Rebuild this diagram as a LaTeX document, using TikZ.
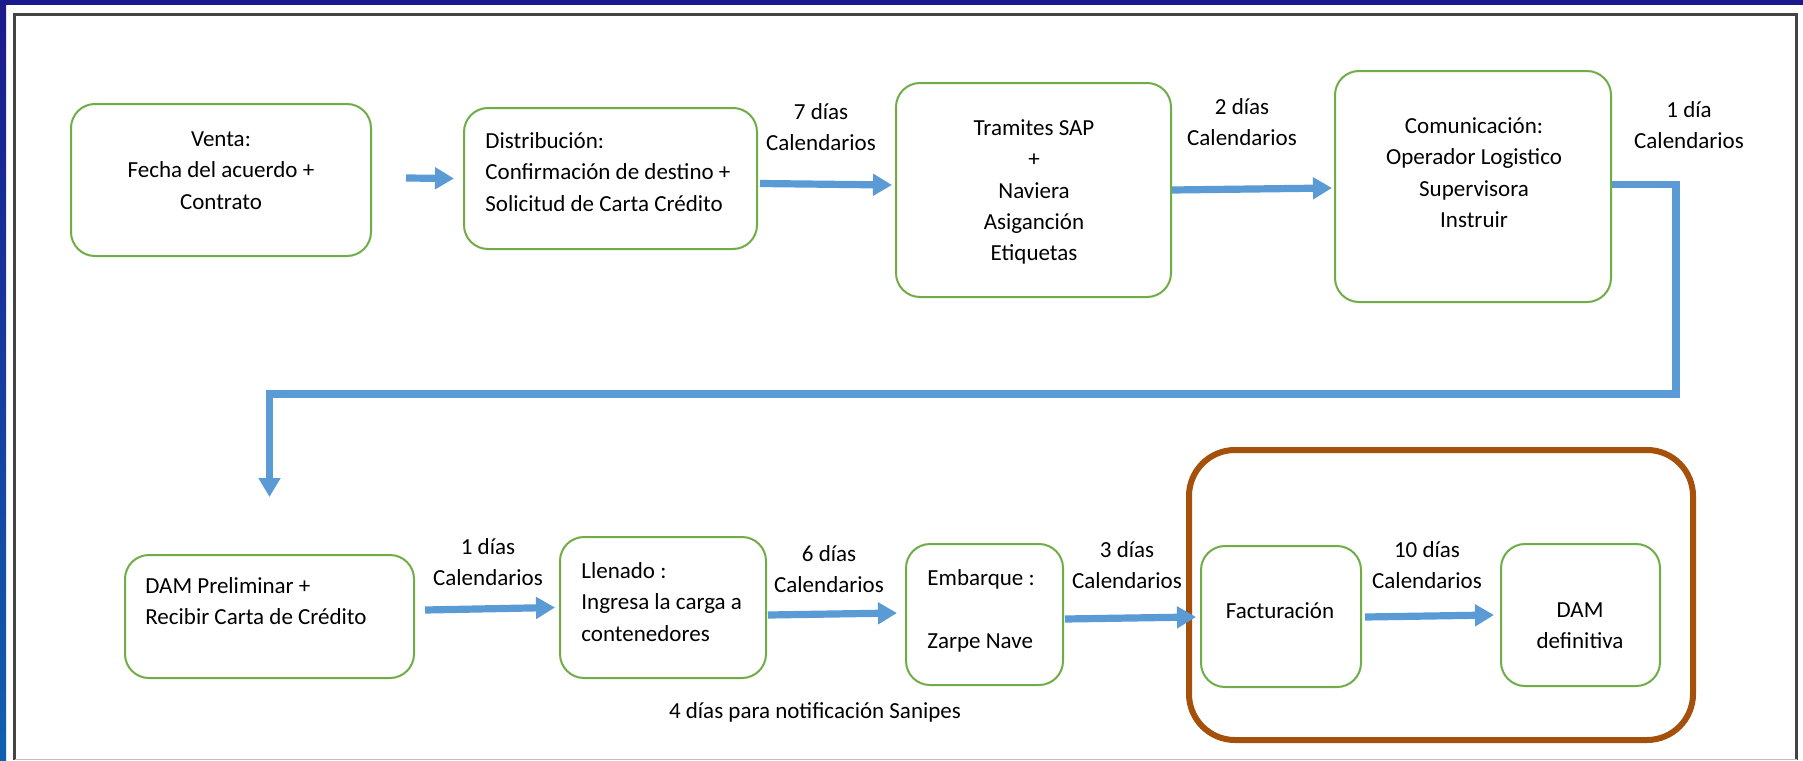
\documentclass[tikz,border=0pt]{standalone}
\usepackage{fontspec}
\setmainfont{Carlito}
\usetikzlibrary{arrows.meta}
\definecolor{verde}{RGB}{112,173,71}
\definecolor{azul}{RGB}{91,155,213}
\definecolor{cafe}{RGB}{165,80,11}
\definecolor{marino}{RGB}{26,26,140}
\definecolor{celeste}{RGB}{16,96,176}
\definecolor{marco}{RGB}{68,68,68}

\begin{document}
\begin{tikzpicture}
[x=0.5pt,y=-0.5pt,>={Triangle[length=9.5pt,width=10.5pt]},
paso/.style = {draw=verde, line width=1pt, rounded corners=12pt, inner sep=0pt},
texto/.style = {anchor=north, inner sep=0pt, align=center, font=\fontsize{11.5pt}{15.7pt}\selectfont},
flecha/.style = {->, draw=azul, line width=3.6pt},]

\def\cal{Calendarios}
\useasboundingbox (0,0) rectangle (1803,760);
% fondo
\fill[white] (0,0) rectangle (1803,760);
\fill[marino] (0,0) rectangle (1803,5);
\shade[top color=marino,bottom color=celeste] (0,0) rectangle (6,760);
\draw[marco,line width=1.5pt] (14.5,760) -- (14.5,14.5) -- (1796.5,14.5) -- (1796.5,760);
\draw[gray!50,line width=0.5pt] (14.5,759.5) -- (1796.5,759.5);

% primera fila
\node (venta) at (221,180)[paso,minimum width=150pt,minimum height=76pt] {};
\node (distri) at (610.5,178.5)[paso,minimum width=146.5pt,minimum height=70.5pt] {};
\node (tramites) at (1033.5,190)[paso,minimum width=137.5pt,minimum height=107pt] {};
\node (comun) at (1473,186.5)[paso,minimum width=138pt,minimum height=115.5pt] {};

\node (ventaT) at (221,124)[texto] {\strut Venta:\\Fecha del acuerdo +\\Contrato};
\node (distriT) at (485,126)[texto,anchor=north west,align=left] {\strut Distribución:\\Confirmación de destino +\\Solicitud de Carta Crédito};
\node (tramitesT) at (1034,113)[texto] {\strut Tramites SAP\\+\\Naviera\\Asiganción\\Etiquetas};
\node (comunT) at (1474,111)[texto] {\strut Comunicación:\\Operador Logistico\\Supervisora\\Instruir};

\node (d7) at (821,97)[texto] {\strut 7 días\\\cal};
\node (d2) at (1242,92)[texto] {\strut 2 días\\\cal};
\node (d1a) at (1689,95)[texto] {\strut 1 día\\\cal};

% segunda fila
\node (dam1) at (269.5,616.5)[paso,minimum width=144.5pt,minimum height=61.5pt] {};
\node (llenado) at (663,607.5)[paso,minimum width=103pt,minimum height=70.5pt] {};
\node (embarque) at (984.5,614.5)[paso,minimum width=78.5pt,minimum height=70.5pt] {};
\node (factura) at (1281,616.5)[paso,minimum width=80pt,minimum height=70.5pt] {};
\node (dam2) at (1580.5,615)[paso,minimum width=79.5pt,minimum height=71pt] {};

\node (dam1T) at (145,571)[texto,anchor=north west,align=left] {\strut DAM Preliminar +\\Recibir Carta de Crédito};
\node (llenadoT) at (581,556)[texto,anchor=north west,align=left] {\strut Llenado :\\Ingresa la carga a\\contenedores};
\node (embarqueT) at (927,563)[texto,anchor=north west,align=left] {\strut Embarque :\\{}\\Zarpe Nave};
\node (facturaT) at (1280,596)[texto] {\strut Facturación};
\node (dam2T) at (1580,595)[texto] {\strut DAM\\definitiva};

\node (d1b) at (488,532)[texto] {\strut 1 días\\\cal};
\node (d6) at (829,539)[texto] {\strut 6 días\\\cal};
\node (d3) at (1127,535)[texto] {\strut 3 días\\\cal};
\node (d10) at (1427,535)[texto] {\strut 10 días\\\cal};
\node (sanipes) at (815,696)[texto] {\strut 4 días para notificación Sanipes};

\draw[cafe,line width=3pt,rounded corners=23pt] (1189,450) rectangle (1693,740);

% flechas
\coordinate (vuelta) at (1676,394);
\draw[flecha] ([shift={(34,-2)}]venta.east) -- ([shift={(-9,0)}]distri.west);
\draw[flecha] ([shift={(2,5)}]distri.east) -- ([shift={(-3,-5)}]tramites.west);
\draw[flecha] (tramites.east) -- ([shift={(-2,1.5)}]comun.west);
\draw[flecha] ([shift={(0,-2)}]comun.east) -| (vuelta) -| ([shift={(0,-57)}]dam1.north);
\draw[flecha] ([shift={(10,-6.5)}]dam1.east) -- ([shift={(-4,0)}]llenado.west);
\draw[flecha] ([shift={(1,7.5)}]llenado.east) -- ([shift={(-8,-1.5)}]embarque.west);
\draw[flecha] ([shift={(1,4.5)}]embarque.east) -- ([shift={(-4,0.5)}]factura.west);
\draw[flecha] ([shift={(3,0.5)}]factura.east) -- ([shift={(-6,0)}]dam2.west);

\end{tikzpicture}
\end{document}
